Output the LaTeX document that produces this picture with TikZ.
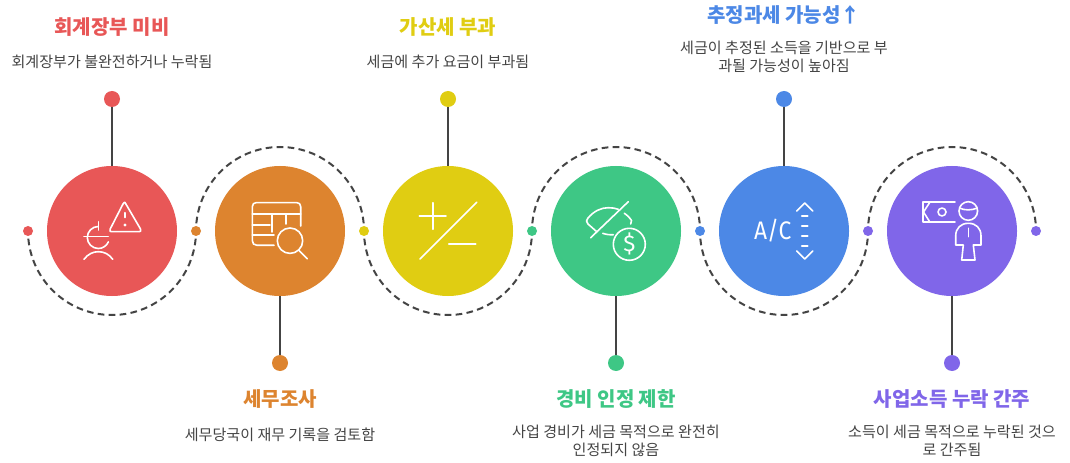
\documentclass[tikz,border=0pt]{standalone}
\usepackage{fontspec}
\setmainfont{Noto Sans CJK KR}
\newfontfamily\iconfont{Fira Sans}
\definecolor{cred}{HTML}{E85757}
\definecolor{corange}{HTML}{DD842F}
\definecolor{cyellow}{HTML}{E0CD12}
\definecolor{cgreen}{HTML}{3EC785}
\definecolor{cblue}{HTML}{4C88E6}
\definecolor{cpurple}{HTML}{8066E9}
\definecolor{cline}{HTML}{444444}
\definecolor{ctext}{HTML}{444444}
\tikzset{
  bigdisc/.style={circle,inner sep=0pt,minimum size=97.5pt,fill=#1},
  enddot/.style={circle,inner sep=0pt,minimum size=12pt,fill=#1},
  smalldot/.style={circle,inner sep=0pt,minimum size=7.5pt,fill=#1},
  stem/.style={draw=cline,line width=1.5pt},
  loopline/.style={draw=cline,line width=1.5pt,dash pattern=on 5pt off 3.246pt,dash phase=2.5pt},
  titletext/.style={font=\fontsize{15pt}{18pt}\selectfont\bfseries,text=#1,inner sep=0pt,anchor=center},
  desctext/.style={font=\fontsize{11.3pt}{13.5pt}\selectfont,text=ctext,inner sep=0pt,anchor=center,align=center},
  icon/.style={draw=white,line width=1.2pt,line cap=round,line join=round},
}
\begin{document}
\begin{tikzpicture}[x=0.75pt,y=-0.75pt]
\path[use as bounding box,fill=white] (0,0) rectangle (1070,463);
% loop path
\foreach \n/\x in {0/28,1/196,2/364,3/532,4/700,5/868,6/1036}{\coordinate (p\n) at (\x,231);}
\path[loopline] (p0) arc[start angle=180,end angle=0,radius=84];
\path[loopline] (p1) arc[start angle=180,end angle=360,radius=84];
\path[loopline] (p2) arc[start angle=180,end angle=0,radius=84];
\path[loopline] (p3) arc[start angle=180,end angle=360,radius=84];
\path[loopline] (p4) arc[start angle=180,end angle=0,radius=84];
\path[loopline] (p5) arc[start angle=180,end angle=360,radius=84];
% discs
\node[bigdisc=cred] (c1) at (112,231) {};
\node[bigdisc=corange] (c2) at (280,231) {};
\node[bigdisc=cyellow] (c3) at (448,231) {};
\node[bigdisc=cgreen] (c4) at (616,231) {};
\node[bigdisc=cblue] (c5) at (784,231) {};
\node[bigdisc=cpurple] (c6) at (952,231) {};
% small dots
\node[smalldot=cred] (s0) at (p0) {};
\node[smalldot=corange] (s1) at (p1) {};
\node[smalldot=cyellow] (s2) at (p2) {};
\node[smalldot=cgreen] (s3) at (p3) {};
\node[smalldot=cblue] (s4) at (p4) {};
\node[smalldot=cpurple] (s5) at (p5) {};
\node[smalldot=cpurple] (s6) at (p6) {};
% end dots and stems
\node[enddot=cred] (e1) at (112,99) {};
\node[enddot=corange] (e2) at (280,363) {};
\node[enddot=cyellow] (e3) at (448,99) {};
\node[enddot=cgreen] (e4) at (616,363) {};
\node[enddot=cblue] (e5) at (784,99) {};
\node[enddot=cpurple] (e6) at (952,363) {};
\foreach \i in {1,...,6}{\path[stem] (e\i) -- (c\i);}
% texts
\node[titletext=cred] (t1) at (112,27) {회계장부 미비};
\node[desctext] (d1) at (112,62) {회계장부가 불완전하거나 누락됨};
\node[titletext=corange] (t2) at (280,399) {세무조사};
\node[desctext] (d2) at (280,435) {세무당국이 재무 기록을 검토함};
\node[titletext=cyellow] (t3) at (448,27) {가산세 부과};
\node[desctext] (d3) at (448,62) {세금에 추가 요금이 부과됨};
\node[titletext=cgreen] (t4) at (616,399) {경비 인정 제한};
\node[desctext] (d4) at (616,441) {사업 경비가 세금 목적으로 완전히\\인정되지 않음};
\node[titletext=cblue] (t5) at (784,15) {추정과세 가능성↑};
\node[desctext] (d5) at (784,57) {세금이 추정된 소득을 기반으로 부\\과될 가능성이 높아짐};
\node[titletext=cpurple] (t6) at (952,399) {사업소득 누락 간주};
\node[desctext] (d6) at (952,441) {소득이 세금 목적으로 누락된 것으\\로 간주됨};
% icon 1
\draw[icon] (125,202.5) -- (140.5,229) .. controls (141.5,231) and (140.5,231.7) .. (139,231.7) -- (111.5,231.7) .. controls (110,231.7) and (109.5,231) .. (110.2,229) -- (123,204) .. controls (123.7,202.5) and (124.7,202) .. (125,202.5) -- cycle;
\draw[icon] (125,212.7) -- (125,217.5);
\fill[white] (125,225) circle[radius=1.6];
\draw[icon] (98.3,226.5) arc[start angle=-90,end angle=-337,radius=11];
\draw[icon] (84,236.7) -- (108.3,236.7);
\draw[icon] (98.3,221.7) -- (98.3,230);
\draw[icon] (84,259.3) .. controls (88,254) and (93,251.7) .. (98.3,251.7) .. controls (104,251.7) and (109,254) .. (112.7,259.3);
% icon 2
\draw[icon] (300.7,226) -- (300.7,206.7) .. controls (300.7,204) and (299,202.7) .. (297,202.7) -- (256,202.7) .. controls (254,202.7) and (252.3,204) .. (252.3,206.7) -- (252.3,240.5) .. controls (252.3,243.5) and (254,245.3) .. (257,245.3) -- (274,245.3);
\draw[icon] (252.3,214) -- (300.7,214);
\draw[icon] (252.3,225) -- (270,225);
\draw[icon] (252.3,235) -- (274,235);
\draw[icon] (271.7,214) -- (271.7,232);
\draw[icon] (285.7,214) -- (285.7,224);
\draw[icon] (290,240.7) circle[radius=12.7];
\draw[icon] (299.3,250.7) -- (307.3,258.7);
% icon 3
\draw[icon] (419.3,216) -- (446,216);
\draw[icon] (432.7,202.7) -- (432.7,229.3);
\draw[icon] (420,259) -- (476.7,202.3);
\draw[icon] (448.7,244) -- (475.7,244);
% icon 4
\draw[icon] (590.7,237.7) -- (628.3,201.7);
\draw[icon] (596.7,231.7) -- (588,224) .. controls (586,222) and (586,220) .. (588,218) .. controls (594,211) and (601,207.7) .. (608.3,207.7) .. controls (612,207.7) and (615.5,208.2) .. (618.3,209.3);
\draw[icon] (624.3,213.3) .. controls (627,215) and (630,218) .. (631.5,220.5) -- (630.7,224);
\draw[icon] (602.7,233.3) .. controls (606,234.5) and (610,235) .. (613.3,234.7);
\draw[icon] (629.3,244.3) circle[radius=16];
\node[text=white,inner sep=0pt,font=\iconfont\fontsize{17pt}{17pt}\selectfont] (dollar) at (629.3,244.3) {\$};
% icon 5
\node[text=white,inner sep=0pt,font=\iconfont\fontsize{19pt}{19pt}\selectfont,xscale=0.9] (ac) at (772.7,230.7) {A/C};
\draw[icon] (796.7,211) -- (804.7,203) -- (812.7,211);
\draw[icon] (796.7,251) -- (804.7,259) -- (812.7,251);
\foreach \yy in {216,226,236,246}{\draw[icon] (801.7,\yy) -- (807.7,\yy);}
% icon 6
\draw[icon] (955,202) -- (922.7,202) -- (922.7,222.3) -- (955,222.3);
\draw[icon] (930,202) -- (923.5,212) -- (930,222.3);
\draw[icon] (942,212) circle[radius=4];
\draw[icon] (968.3,211) circle[radius=9.3];
\draw[icon] (959.5,208) .. controls (964,210.5) and (972,210.5) .. (977.2,208);
\draw[icon] (963.3,245) -- (955.7,245) -- (955.7,236) .. controls (955.7,228) and (961,223.3) .. (968.3,223.3) .. controls (976,223.3) and (981,228) .. (981,236) -- (981,245) -- (973.3,245) -- (975,260) -- (961.7,260) -- (963.3,245);
\draw[icon] (968.3,228.3) -- (968.3,236.7);
\end{tikzpicture}
\end{document}
